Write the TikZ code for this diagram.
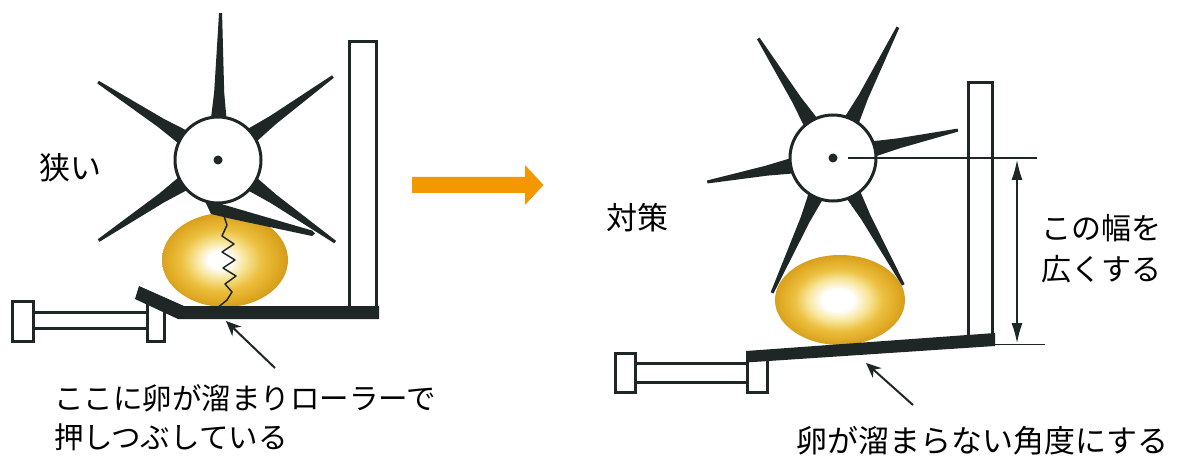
\documentclass[tikz,border=0pt]{standalone}
\usepackage{fontspec}
\newfontfamily\jpfont{Noto Sans CJK JP}
\usetikzlibrary{arrows.meta}

\definecolor{ink}{RGB}{30,38,38}
\definecolor{arrorange}{RGB}{243,152,0}
\definecolor{eggrim}{RGB}{214,158,30}
\definecolor{eggedge}{RGB}{224,170,36}
\definecolor{eggmid}{RGB}{236,192,64}
\definecolor{egglight}{RGB}{247,228,150}

% golden eggs with a bright highlight slightly left of centre
% (the 50bp square in the middle of a shading covers the egg)
\pgfdeclareradialshading{eggshade}{\pgfpoint{-2.5bp}{0bp}}{%
  color(0bp)=(white); color(4.5bp)=(white); color(10bp)=(egglight);
  color(16bp)=(eggmid); color(22bp)=(eggedge); color(25bp)=(eggrim);
  color(40bp)=(eggrim)}
\pgfdeclareradialshading{eggshadewide}{\pgfpoint{-1bp}{0bp}}{%
  color(0bp)=(white); color(6bp)=(white); color(12bp)=(egglight);
  color(17bp)=(eggmid); color(22.5bp)=(eggedge); color(25bp)=(eggrim);
  color(40bp)=(eggrim)}

% one tapered roller blade: hub x, hub y, angle, length, hub radius
\newcommand\rotorblade[5]{%
  \fill[ink,shift={(#1,#2)},rotate=#3]
    (0,-8) -- (#5,-7.6) -- ({#5+25},-5) -- (#4,-1.5)
    -- (#4,1.5) -- ({#5+25},5) -- (#5,7.6) -- (0,8) -- cycle;}

\tikzset{
  outline/.style={draw=ink, line width=3pt, fill=white},
  hub/.style={circle, draw=ink, line width=3pt, fill=white,
              minimum size=86pt, inner sep=0pt},
  label/.style={inner sep=0pt, anchor=base west, text=black},
  pointer/.style={draw=ink, line width=2pt, -{Stealth[length=15pt,width=13pt]}},
  dimline/.style={draw=ink, line width=1.3pt},
}

\begin{document}
\begin{tikzpicture}[x=1pt,y=-1pt]
\useasboundingbox (0,0) rectangle (1185,457);
\fill[white] (0,0) rectangle (1185,457);

% ================= before: narrow gap =================
% cylinder
\draw[outline] (12,301) rectangle (33,341);
\draw[outline] (33,312.5) rectangle (148,328);
\draw[outline] (147,303) rectangle (164,341);
% egg
\shade[shading=eggshade] (225,260) ellipse [x radius=63, y radius=47];
% back wall
\draw[outline] (349.5,41.5) rectangle (376.5,310);
% bent floor plate
\fill[ink] (139,286) -- (184,306) -- (379,306) -- (379,319)
  -- (178,319) -- (135,299) -- cycle;
% blades
\rotorblade{218}{160}{89}{147}{43}
\rotorblade{218}{160}{147}{143}{43}
\rotorblade{218}{160}{36}{142}{43}
\rotorblade{218}{160}{214}{144}{43}
\rotorblade{218}{160}{325}{143}{43}
% blade pressed down onto the egg
\fill[ink] (204,199) -- (312,230.5) -- (315,233.5) -- (312,236)
  -- (232,219) -- (211,214) -- cycle;
\node[hub] (hubL) at (218,160) {};
\fill[ink] (hubL.center) circle (4.5);
% crack through the egg
\draw[ink, line width=1.5pt, line join=round]
  (223,213) -- (227,225) -- (222,236) -- (234,244) -- (222,252)
  -- (235,260) -- (223,268) -- (236,276) -- (225,284) -- (232,292)
  -- (227,300) -- (216,309);
% pointer to the trap
\coordinate (trapTail) at (275,368);
\coordinate (trapTip) at (226,321);
\draw[pointer] (trapTail) -- (trapTip);

\node[label, font=\jpfont\fontsize{31pt}{31pt}\selectfont] (narrow) at (39,179.5) {狭い};
\node[label, font=\jpfont\fontsize{29.5pt}{29.5pt}\selectfont] (causeA) at (54,409.5) {ここに卵が溜まりローラーで};
\node[label, font=\jpfont\fontsize{29.5pt}{29.5pt}\selectfont] (causeB) at (54,448.5) {押しつぶしている};

% ================= transition arrow =================
\fill[arrorange] (412,177) -- (525,177) -- (525,165) -- (543.5,185)
  -- (525,205) -- (525,193) -- (412,193) -- cycle;

% ================= after: wider gap =================
% cylinder
\draw[outline] (615,353) rectangle (635,392);
\draw[outline] (635,363) rectangle (747,382);
\draw[outline] (747,355) rectangle (767,392);
% egg
\shade[shading=eggshadewide] (840,300) ellipse [x radius=65, y radius=45];
% back wall
\draw[outline] (968.5,82.5) rectangle (992.5,338);
% tilted floor plate
\fill[ink] (746,351) -- (995,333) -- (995,346) -- (746,362.5) -- cycle;
% blades
\rotorblade{833}{158}{122}{141}{43}
\rotorblade{833}{158}{63.6}{146}{43}
\rotorblade{833}{158}{12.6}{128}{43}
\rotorblade{833}{158}{190.8}{128}{43}
\rotorblade{833}{158}{245.7}{148}{43}
\rotorblade{833}{158}{299}{145}{43}
\node[hub] (hubR) at (833,158) {};
\fill[ink] (hubR.center) circle (4.5);

% dimension: roller axis to floor
\coordinate (axisEnd) at (1037,158);
\coordinate (floorStart) at (994,344.5);
\coordinate (floorEnd) at (1045,344.5);
\draw[dimline] ([xshift=15pt]hubR.center) -- (axisEnd);
\draw[dimline] (floorStart) -- (floorEnd);
\coordinate (gapTop) at (1017,160);
\coordinate (gapBot) at (1017,343);
\draw[dimline, {Latex[length=20pt,width=11pt]}-{Latex[length=20pt,width=11pt]}] (gapTop) -- (gapBot);

% pointer to the floor angle
\coordinate (angleTail) at (913,405);
\coordinate (angleTip) at (866,363);
\draw[pointer] (angleTail) -- (angleTip);

\node[label, font=\jpfont\fontsize{31pt}{31pt}\selectfont] (remedy) at (606,229.5) {対策};
\node[label, font=\jpfont\fontsize{30pt}{30pt}\selectfont] (widenA) at (1041,239.5) {この幅を};
\node[label, font=\jpfont\fontsize{30pt}{30pt}\selectfont] (widenB) at (1041,280.5) {広くする};
\node[label, font=\jpfont\fontsize{31pt}{31pt}\selectfont] (angleNote) at (796,452.5) {卵が溜まらない角度にする};
\end{tikzpicture}
\end{document}
